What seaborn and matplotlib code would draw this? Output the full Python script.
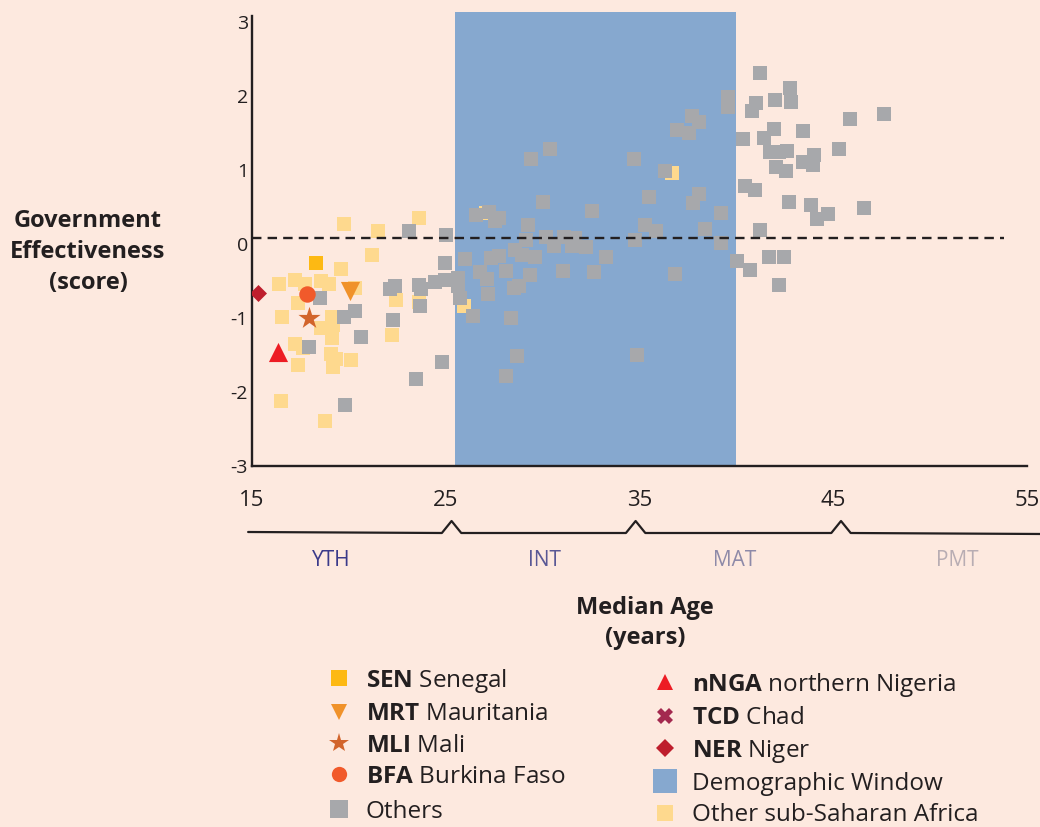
import matplotlib.pyplot as plt
import seaborn as sns
from matplotlib.lines import Line2D
from matplotlib.transforms import blended_transform_factory

# other sub-Saharan Africa (yellow squares)
ssa_x = [19.75, 21.51, 23.63, 21.2, 19.6, 16.4, 17.22, 17.74, 18.57, 18.98, 20.32, 17.38, 16.55,
         19.12, 18.57, 19.2, 19.12, 17.22, 17.65, 19.07, 19.33, 20.1, 19.19, 17.38, 16.5, 18.77,
         22.44, 22.24, 23.63, 25.92, 27.1, 36.7]
ssa_y = [0.27, 0.18, 0.36, -0.14, -0.33, -0.54, -0.49, -0.54, -0.5, -0.54, -0.59, -0.79, -0.98,
         -0.98, -1.13, -1.09, -1.27, -1.35, -1.41, -1.48, -1.55, -1.56, -1.66, -1.64, -2.12, -2.39,
         -0.75, -1.23, -0.78, -0.84, 0.42, 0.96]

# rest of the world (grey squares)
oth_x = [23.11, 25.03, 24.97, 18.51, 22.1, 22.4, 23.63, 23.73, 24.46, 24.97, 25.65, 25.65, 25.75,
         20.32, 19.75, 22.29, 23.68, 20.63, 17.95, 24.82, 23.48, 19.8, 26.39,
         41.24, 39.58, 39.58, 41.03, 40.83, 41.98, 37.72, 38.06, 36.91, 37.56, 40.32, 41.41, 41.93,
         41.72, 42.03, 30.4, 29.4, 34.74, 36.34, 30.01, 35.47, 38.05, 37.74, 39.22, 40.43, 40.94,
         32.57, 26.58, 27.21, 27.56, 27.76, 29.26, 30.19, 31.09, 31.67, 30.61, 31.54, 32.26, 29.16,
         28.59, 28.94, 29.61, 27.75, 27.34, 26.0, 33.29, 35.26, 35.83, 34.78, 38.36, 39.22, 40.04,
         40.72, 26.78, 28.13, 27.13, 29.37, 31.07, 32.67, 36.81, 28.8, 28.5, 27.2, 28.39, 28.67,
         28.13, 34.88, 41.2, 42.18,
         42.75, 42.84, 45.85, 47.61, 43.42, 42.6, 42.2, 43.99, 43.46, 43.94, 45.28, 42.54, 42.7,
         43.84, 44.15, 44.72, 46.58, 41.67, 42.44]
oth_y = [0.18, 0.12, -0.26, -0.73, -0.6, -0.57, -0.55, -0.6, -0.51, -0.49, -0.46, -0.56, -0.73,
         -0.91, -0.98, -1.02, -0.83, -1.25, -1.39, -1.6, -1.83, -2.17, -0.97,
         2.31, 1.99, 1.86, 1.91, 1.8, 1.95, 1.74, 1.65, 1.54, 1.5, 1.42, 1.44, 1.56,
         1.25, 1.04, 1.29, 1.15, 1.15, 0.99, 0.57, 0.64, 0.68, 0.56, 0.42, 0.79, 0.73,
         0.45, 0.39, 0.43, 0.32, 0.36, 0.26, 0.1, 0.1, 0.08, -0.03, -0.03, -0.04, 0.05,
         -0.08, -0.14, -0.17, -0.16, -0.19, -0.2, -0.17, 0.26, 0.18, 0.05, 0.2, 0.01, -0.23,
         -0.35, -0.37, -0.36, -0.47, -0.42, -0.36, -0.37, -0.4, -0.57, -0.59, -0.68, -1.0, -1.51,
         -1.78, -1.5, 0.19, -0.55,
         2.11, 1.92, 1.69, 1.76, 1.53, 1.26, 1.25, 1.2, 1.11, 1.07, 1.29, 0.99, 0.57,
         0.53, 0.34, 0.41, 0.49, -0.18, -0.18]

# highlighted countries: code, median age, score
focus_code = ['SEN', 'MRT', 'MLI', 'BFA', 'nNGA', 'NER']
focus_age = [18.32, 20.08, 17.96, 17.83, 16.33, 15.33]
focus_score = [-0.25, -0.64, -1.0, -0.68, -1.46, -0.66]

window = (25.5, 40)
threshold = 0.08
age_groups = ['YTH', 'INT', 'MAT', 'PMT']
group_label_x = [19.1, 30.1, 39.9, 51.4]
group_bounds = [25.3, 34.8, 45.4]

ink = '#231F20'
bg = '#FDE9DF'
styles = {
    'SEN': ('s', '#FDB913', 110, 11),
    'MRT': ('v', '#F0922A', 190, 12),
    'MLI': ('*', '#D2642B', 280, 15),
    'BFA': ('o', '#F15A2B', 140, 11),
    'nNGA': ('^', '#ED1C24', 190, 12),
    'TCD': ('X', '#A3294F', 120, 11),
    'NER': ('D', '#BE1E2D', 75, 9),
}

sns.set_style('white')
plt.rcParams['font.family'] = ['Open Sans', 'DejaVu Sans']
plt.rcParams['mathtext.fontset'] = 'custom'
plt.rcParams['mathtext.bf'] = 'Open Sans:bold'
plt.rcParams['mathtext.rm'] = 'Open Sans'
plt.rcParams['axes.unicode_minus'] = False

fig = plt.figure(figsize=(10.4, 8.27), dpi=100, facecolor=bg)
ax = fig.add_axes([252 / 1040, 1 - 466 / 827, 775 / 1040, 454 / 827])
ax.set_facecolor(bg)

ax.axvspan(*window, color='#86A8CF', zorder=0, lw=0)
sns.scatterplot(x=ssa_x, y=ssa_y, marker='s', s=100, color='#FED98E', linewidth=0, ax=ax, zorder=2)
sns.scatterplot(x=oth_x, y=oth_y, marker='s', s=100, color='#A7A8AB', linewidth=0, ax=ax, zorder=3)
for c, xa, ya in zip(focus_code, focus_age, focus_score):
    m, col, s, _ = styles[c]
    sns.scatterplot(x=[xa], y=[ya], marker=m, s=s, color=col, linewidth=0, ax=ax, zorder=4)

ax.hlines(threshold, 15, 53.8, colors=ink, linestyles=(0, (4, 2.6)), lw=1.7, zorder=5)

ax.set_xlim(15, 55)
ax.set_ylim(-3, 3.14)
ax.set_xticks([15, 25, 35, 45, 55])
ax.set_yticks([-3, -2, -1, 0, 1, 2, 3])
ax.tick_params(axis='x', length=0, pad=17, labelsize=16, labelcolor=ink)
ax.tick_params(axis='y', length=0, pad=3, labelsize=14, labelcolor=ink)
for side in ['top', 'right']:
    ax.spines[side].set_visible(False)
for side in ['left', 'bottom']:
    ax.spines[side].set_color(ink)
    ax.spines[side].set_linewidth(1.7)
ax.spines['left'].set_bounds(-3, 3.08)
ax.set_xlabel('')
ax.set_ylabel('')

# age-structure bracket under the axis
trans = blended_transform_factory(ax.transData, fig.transFigure)
bx, by = [14.8], [1 - 532 / 827]
for b in group_bounds:
    bx += [b - 0.5, b, b + 0.5]
    by += [1 - 533 / 827, 1 - 521 / 827, 1 - 533 / 827]
bx.append(55.8)
by.append(1 - 534 / 827)
ax.plot(bx, by, color=ink, lw=1.6, transform=trans, clip_on=False)
group_colors = ['#3B3A8A', '#5A5895', '#8E8AA8', '#B8ADB3']
for g, gx, gc in zip(age_groups, group_label_x, group_colors):
    ax.text(gx, 1 - 560 / 827, g, transform=trans, ha='center', va='center', fontsize=15, color=gc)

fig.text(88 / 1040, 1 - 252 / 827, 'Government\nEffectiveness\n(score)', ha='center', va='center',
         fontsize=17, fontweight='bold', color=ink, linespacing=1.4)
fig.text(645 / 1040, 1 - 623 / 827, 'Median Age\n(years)', ha='center', va='center',
         fontsize=17, fontweight='bold', color=ink, linespacing=1.35)


def handle(m, col, ms):
    return Line2D([], [], marker=m, color=col, markersize=ms, linestyle='none', markeredgewidth=0)


names = {'SEN': 'Senegal', 'MRT': 'Mauritania', 'MLI': 'Mali', 'BFA': 'Burkina Faso',
         'nNGA': 'northern Nigeria', 'TCD': 'Chad', 'NER': 'Niger'}
left = ['SEN', 'MRT', 'MLI', 'BFA']
right = ['nNGA', 'TCD', 'NER']
lh = [handle(styles[c][0], styles[c][1], styles[c][3]) for c in left]
ll = [r'$\bf{' + c + '}$ ' + names[c] for c in left]
rh = [handle(styles[c][0], styles[c][1], styles[c][3]) for c in right]
rh += [handle('s', '#86A8CF', 17), handle('s', '#FED98E', 12)]
rl = [r'$\bf{' + c + '}$ ' + names[c] for c in right] + ['Demographic Window', 'Other sub-Saharan Africa']

kw = dict(loc='upper left', frameon=False, fontsize=17.5, handlelength=1.0, handletextpad=0.6,
          labelspacing=0.3, borderpad=0, borderaxespad=0, labelcolor=ink)
leg1 = fig.legend(lh, ll, bbox_to_anchor=(327 / 1040, 1 - 667 / 827), **kw)
leg3 = fig.legend([handle('s', '#A7A8AB', 13)], ['Others'], bbox_to_anchor=(327 / 1040, 1 - 800 / 827), **kw)
leg2 = fig.legend(rh, rl, bbox_to_anchor=(653 / 1040, 1 - 671 / 827), **kw)

plt.savefig('out.png', dpi=100, facecolor=bg)
